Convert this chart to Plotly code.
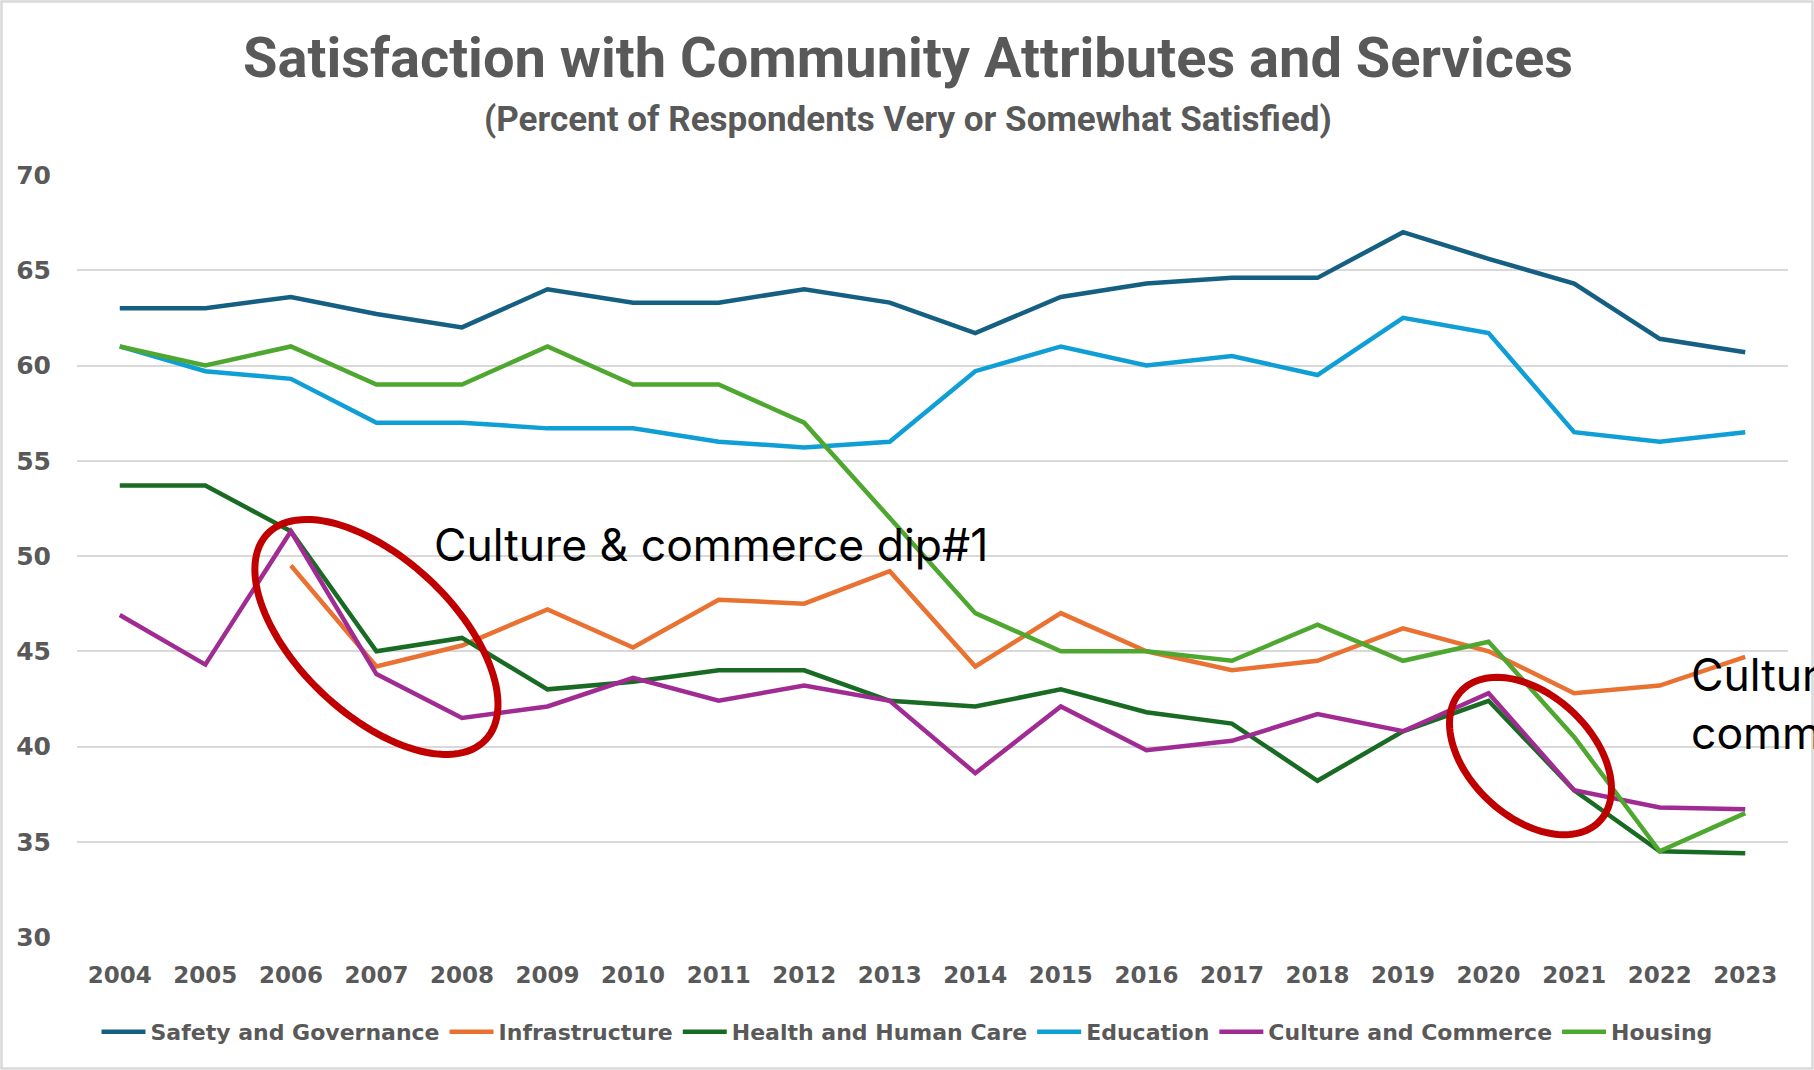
import numpy as np
import plotly.graph_objects as go

years = list(range(2004, 2024))

safety = [63, 63, 63.6, 62.7, 62, 64, 63.3, 63.3, 64, 63.3, 61.7, 63.6, 64.3, 64.6, 64.6, 67, 65.6, 64.3, 61.4, 60.7]
infrastructure = [None, None, 49.5, 44.2, 45.3, 47.2, 45.2, 47.7, 47.5, 49.2, 44.2, 47, 45, 44, 44.5, 46.2, 45, 42.8, 43.2, 44.7]
health = [53.7, 53.7, 51.3, 45, 45.7, 43, 43.4, 44, 44, 42.4, 42.1, 43, 41.8, 41.2, 38.2, 40.8, 42.4, 37.7, 34.5, 34.4]
education = [61, 59.7, 59.3, 57, 57, 56.7, 56.7, 56, 55.7, 56, 59.7, 61, 60, 60.5, 59.5, 62.5, 61.7, 56.5, 56, 56.5]
culture = [46.9, 44.3, 51.3, 43.8, 41.5, 42.1, 43.6, 42.4, 43.2, 42.4, 38.6, 42.1, 39.8, 40.3, 41.7, 40.8, 42.8, 37.7, 36.8, 36.7]
housing = [61, 60, 61, 59, 59, 61, 59, 59, 57, 52, 47, 45, 45, 44.5, 46.4, 44.5, 45.5, 40.5, 34.5, 36.5]

series_names = ["Safety and Governance", "Infrastructure", "Health and Human Care",
                "Education", "Culture and Commerce", "Housing"]
series_values = [safety, infrastructure, health, education, culture, housing]
series_colors = ["#156082", "#E97132", "#196B24", "#0F9ED5", "#A02B93", "#4EA72E"]

y_ticks = [30, 35, 40, 45, 50, 55, 60, 65, 70]

title_text = "Satisfaction with Community Attributes and Services"
subtitle_text = "(Percent of Respondents Very or Somewhat Satisfied)"
note1_text = "Culture & commerce dip#1"
note2_text = "Culture &<br>commerce dip#2"

# layout geometry (pixels)
W, H = 1814, 1070
ML, MR, MT, MB = 77, 26, 175, 133
PW, PH = W - ML - MR, H - MT - MB
X0, X1 = 2003.5, 2023.5
Y0, Y1 = 30, 70
px_per_x = PW / (X1 - X0)
px_per_y = PH / (Y1 - Y0)

GREY = "#595959"

fig = go.Figure()
for name, vals, col in zip(series_names, series_values, series_colors):
    fig.add_trace(go.Scatter(x=years, y=vals, mode="lines", name=name,
                             line=dict(color=col, width=4.5),
                             connectgaps=False))


def ellipse_path(cx, cy, a_px, b_px, theta_deg, n=120):
    t = np.linspace(0, 2 * np.pi, n)
    th = np.radians(theta_deg)
    dx = a_px * np.cos(t) * np.cos(th) - b_px * np.sin(t) * np.sin(th)
    dy = a_px * np.cos(t) * np.sin(th) + b_px * np.sin(t) * np.cos(th)  # screen, down positive
    xs = cx + dx / px_per_x
    ys = cy - dy / px_per_y
    pts = [f"{x:.5f},{y:.5f}" for x, y in zip(xs, ys)]
    return "M" + " L".join(pts) + " Z"


# ellipse highlight centres (data coords), semi-axes in pixels, rotation
ellipses = [
    (2007.0, 45.75, 150, 78, 43.3),
    (2020.49, 39.5, 95, 61, 43.0),
]
shapes = []
for cx, cy, a, b, th in ellipses:
    shapes.append(dict(type="path", xref="x", yref="y", path=ellipse_path(cx, cy, a, b, th),
                       line=dict(color="#C00000", width=7), fillcolor="rgba(0,0,0,0)",
                       layer="above"))

# chart-area border
shapes.append(dict(type="rect", xref="paper", yref="paper",
                   x0=(1.5 - ML) / PW, x1=(W - 1.5 - ML) / PW,
                   y0=-(H - 1.5 - (H - MB)) / PH, y1=(H - MB - 1.5) / PH,
                   line=dict(color="#D9D9D9", width=2.5), fillcolor="rgba(0,0,0,0)"))

annotations = [
    dict(text=f"<b>{title_text}</b>", xref="paper", yref="paper",
         x=(908 - ML) / PW, y=(H - MB - 58) / PH, xanchor="center", yanchor="middle",
         showarrow=False, font=dict(family="Roboto", size=56, color=GREY)),
    dict(text=f"<b>{subtitle_text}</b>", xref="paper", yref="paper",
         x=(908 - ML) / PW, y=(H - MB - 119) / PH, xanchor="center", yanchor="middle",
         showarrow=False, font=dict(family="Roboto", size=35, color=GREY)),
    dict(text=note1_text, xref="x", yref="y", x=2007.65, y=50.58,
         xanchor="left", yanchor="middle", showarrow=False,
         font=dict(family="Inter", size=44.5, color="#000000")),
    dict(text=note2_text, xref="x", yref="y", x=2022.34, y=42.23,
         xanchor="left", yanchor="middle", showarrow=False, align="left",
         font=dict(family="Inter", size=44.5, color="#000000")),
]

fig.update_layout(
    width=W, height=H,
    margin=dict(l=ML, r=MR, t=MT, b=MB, autoexpand=False),
    paper_bgcolor="white", plot_bgcolor="white",
    showlegend=True,
    legend=dict(orientation="h", xref="container", yref="container",
                x=0.5, xanchor="center", y=1 - 1032 / H, yanchor="middle",
                font=dict(family="DejaVu Sans", size=22, color=GREY, weight="bold"),
                itemwidth=44, tracegroupgap=0, bgcolor="rgba(0,0,0,0)"),
    xaxis=dict(range=[X0, X1], tickmode="array", tickvals=years,
               ticktext=[str(y) for y in years], showgrid=False, zeroline=False,
               showline=False, ticks="", ticklabelstandoff=22,
               tickfont=dict(family="DejaVu Sans", size=23, color=GREY, weight="bold")),
    yaxis=dict(range=[Y0, Y1], tickmode="array", tickvals=y_ticks,
               showgrid=True, gridcolor="#D9D9D9", gridwidth=1.5, zeroline=False,
               showline=False, ticks="", ticklabelstandoff=25,
               tickfont=dict(family="DejaVu Sans", size=25, color=GREY, weight="bold")),
    shapes=shapes,
    annotations=annotations,
)

fig.write_html("out.html",
               config={"displayModeBar": False},
               post_script="document.body.style.margin='0';document.body.style.overflow='hidden';")
